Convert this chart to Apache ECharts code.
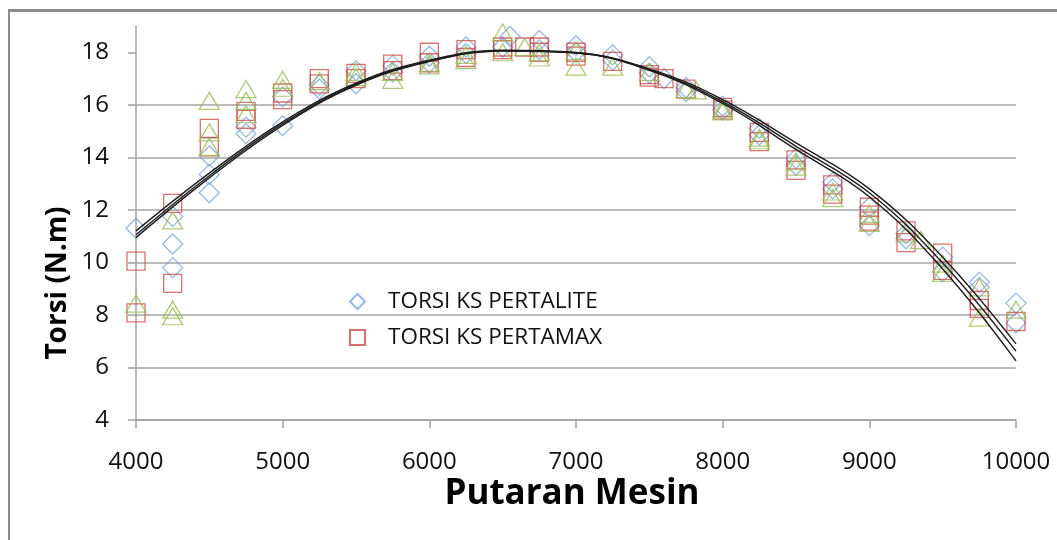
<!DOCTYPE html>
<html>
<head>
<meta charset="utf-8">
<script src="https://cdn.jsdelivr.net/npm/echarts@6/dist/echarts.min.js"></script>
<style>
html,body{margin:0;padding:0;background:#fff;overflow:hidden;}
#chart{width:1057px;height:540px;}
</style>
</head>
<body>
<div id="chart"></div>
<script>
// ---- data ----
const seriesNames = ['TORSI KS PERTALITE', 'TORSI KS PERTAMAX', 'TORSI KS 3'];
const xTitle = 'Putaran Mesin';
const yTitle = 'Torsi (N.m)';
const yTicks = [4, 6, 8, 10, 12, 14, 16, 18];

// [rpm, torque]
const pertalite = [
  [4000,11.3],[4250,11.75],[4250,10.7],[4250,9.8],
  [4500,14.05],[4500,13.35],[4500,12.65],
  [4750,15.15],[4750,14.9],[5000,16.3],[5000,15.2],
  [5250,16.75],[5250,16.6],[5500,17.3],[5500,16.8],
  [5750,17.5],[5750,17.25],[6000,17.85],[6000,17.6],
  [6250,18.2],[6250,17.95],[6500,18.2],[6550,18.6],
  [6750,18.45],[6750,18.1],[7000,18.25],[7000,18.0],
  [7250,17.9],[7250,17.7],[7500,17.45],[7500,17.2],[7600,17.0],
  [7750,16.65],[7750,16.5],[8000,15.95],[8000,15.8],
  [8250,15.1],[8250,14.85],[8500,13.95],[8500,13.7],
  [8750,13.05],[8750,12.8],[9000,12.1],[9000,11.4],
  [9250,11.1],[9250,10.9],[9500,10.2],[9500,9.65],
  [9750,9.25],[9750,9.05],[10000,8.45],[10000,7.7]
];
const pertamax = [
  [4000,10.05],[4000,8.08],[4250,12.25],[4250,9.2],
  [4500,15.1],[4500,14.4],[4750,15.75],[4750,15.45],
  [5000,16.45],[5000,16.2],[5250,17.0],[5250,16.8],
  [5500,17.2],[5500,17.0],[5750,17.55],[5750,17.3],
  [6000,18.0],[6000,17.6],[6250,18.1],[6250,17.8],
  [6500,18.1],[6500,18.2],[6650,18.2],[6750,18.2],[6750,18.0],
  [7000,18.0],[7000,17.85],[7250,17.65],[7500,17.15],[7500,17.05],
  [7600,17.0],[7750,16.6],[8000,15.9],[8000,15.8],
  [8250,14.95],[8250,14.6],[8500,13.9],[8500,13.5],
  [8750,12.95],[8750,12.6],[9000,12.1],[9000,11.8],[9000,11.57],
  [9250,11.2],[9250,10.75],[9500,10.35],[9500,9.7],
  [9750,8.55],[9750,8.25],[10000,7.75]
];
const series3 = [
  [4000,8.43],[4250,11.6],[4250,8.2],[4250,7.95],
  [4500,16.15],[4500,14.95],[4500,14.4],
  [4750,16.6],[4750,16.15],[4750,15.65],[5000,16.95],[5000,16.65],
  [5250,16.9],[5500,17.05],[5500,17.25],[5750,17.25],[5750,16.95],
  [6000,17.6],[6000,17.5],[6250,17.9],[6250,17.7],
  [6500,18.75],[6500,18.0],[6650,18.2],[6750,18.0],[6750,17.8],
  [7000,18.05],[7000,17.45],[7250,17.45],[7500,17.25],
  [7750,16.6],[7820,16.55],[8000,15.85],[8000,15.75],
  [8250,14.75],[8250,14.65],[8500,13.85],[8500,13.65],
  [8750,12.7],[8750,12.45],[9000,11.85],[9000,11.5],
  [9250,11.1],[9350,10.85],[9500,9.95],[9500,9.6],
  [9750,9.05],[9750,7.9],[10000,8.2]
];

// trend lines, read at every 500 rpm
const trendRpm = [4000,4500,5000,5500,6000,6500,7000,7500,8000,8500,9000,9500,10000];
const trend1 = [11.2, 13.4, 15.35, 16.82, 17.7, 18.08, 17.99, 17.37, 16.2, 14.55, 12.8, 10.2, 6.9];
const trend2 = [11.05, 13.3, 15.28, 16.78, 17.67, 18.06, 17.98, 17.34, 16.12, 14.42, 12.65, 9.98, 6.62];
const trend3 = [10.95, 13.22, 15.22, 16.74, 17.65, 18.05, 17.97, 17.31, 16.05, 14.3, 12.5, 9.75, 6.25];

// ---- chart ----
const chart = echarts.init(document.getElementById('chart'), null, {renderer: 'canvas'});
const FONT = 'Open Sans';
const pair = (xs, ys) => xs.map((x, i) => [x, ys[i]]);
const hollow = c => ({color: 'rgba(255,255,255,0)', borderColor: c, borderWidth: 1.3});
const trendSeries = ys => ({
  type: 'line', data: pair(trendRpm, ys), smooth: 0.4, symbol: 'none', silent: true,
  lineStyle: {color: '#1c1c1c', width: 1.4}, z: 5
});

chart.setOption({
  animation: false,
  backgroundColor: '#fff',
  grid: {left: 136, right: 41, top: 26, bottom: 120, containLabel: false},
  legend: {
    orient: 'vertical', left: 349, top: 290, itemGap: 13, padding: 0,
    itemWidth: 15, itemHeight: 15,
    data: [seriesNames[0], seriesNames[1]],
    textStyle: {fontFamily: FONT, fontSize: 22.5, color: '#111', padding: [0, 0, 0, 18]}
  },
  xAxis: {
    type: 'value', min: 4000, max: 10000, interval: 1000,
    axisLine: {show: true, lineStyle: {color: '#a0a0a0', width: 1.5}},
    axisTick: {show: true, inside: false, length: 8, lineStyle: {color: '#a0a0a0', width: 1.5}},
    axisLabel: {fontFamily: FONT, fontSize: 24, color: '#111', margin: 30, formatter: v => String(v)},
    splitLine: {show: false}
  },
  yAxis: {
    type: 'value', min: 4, max: 19, interval: 2,
    axisLine: {show: true, lineStyle: {color: '#a0a0a0', width: 1.5}},
    axisTick: {show: true, inside: false, length: 8, customValues: yTicks, lineStyle: {color: '#a0a0a0', width: 1.5}},
    axisLabel: {fontFamily: FONT, fontSize: 24, color: '#111', margin: 27, customValues: yTicks},
    splitLine: {show: true, showMaxLine: false, lineStyle: {color: '#a6a6a6', width: 1.5}}
  },
  graphic: [
    {type: 'rect', z: 100, silent: true, shape: {x: 8, y: 9, width: 1049, height: 3},
     style: {fill: '#8c8c8c'}},
    {type: 'rect', z: 100, silent: true, shape: {x: 8, y: 9, width: 2, height: 531},
     style: {fill: '#8c8c8c'}},
    {type: 'text', x: 58, y: 283, rotation: Math.PI / 2, silent: true,
     style: {text: yTitle, font: 'bold 28px "Open Sans"', fill: '#000', textAlign: 'center', textVerticalAlign: 'middle'}},
    {type: 'text', x: 572, y: 494, silent: true,
     style: {text: xTitle, font: 'bold 35px "Open Sans"', fill: '#000', textAlign: 'center', textVerticalAlign: 'middle'}}
  ],
  series: [
    {name: seriesNames[0], type: 'scatter', data: pertalite, symbol: 'diamond', symbolSize: [20, 20],
     itemStyle: hollow('#7ea6da'), z: 3},
    {name: seriesNames[1], type: 'scatter', data: pertamax, symbol: 'rect', symbolSize: [18, 18],
     itemStyle: hollow('#cc4f4c'), z: 3},
    {name: seriesNames[2], type: 'scatter', data: series3, symbol: 'triangle', symbolSize: [20, 17],
     itemStyle: hollow('#9bbb59'), z: 3},
    trendSeries(trend1),
    trendSeries(trend2),
    trendSeries(trend3)
  ]
});
</script>
</body>
</html>
